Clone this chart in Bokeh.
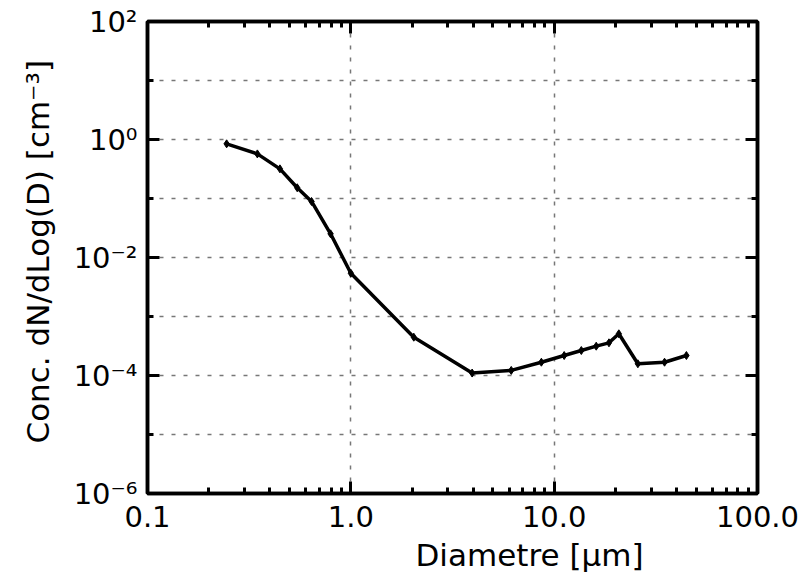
from bokeh.plotting import figure
from bokeh.models import FixedTicker, CustomJSTickFormatter, LogAxis, Range1d, Title
from bokeh.embed import file_html
from bokeh.resources import INLINE

diameter = [0.245, 0.347, 0.448, 0.545, 0.641, 0.795, 1.0, 2.04, 3.95, 6.15,
            8.65, 11.2, 13.6, 16.1, 18.6, 20.8, 25.8, 34.9, 44.7]
conc = [0.845, 0.57, 0.318, 0.152, 0.089, 0.0252, 0.00542, 4.46e-4, 1.1e-4, 1.22e-4,
        1.68e-4, 2.18e-4, 2.65e-4, 3.14e-4, 3.58e-4, 5.09e-4, 1.58e-4, 1.68e-4, 2.18e-4]

x_major = [0.1, 1.0, 10.0, 100.0]
x_minor = [0.2, 0.3, 0.4, 0.5, 0.6, 0.7, 0.8, 0.9,
           2, 3, 4, 5, 6, 7, 8, 9,
           20, 30, 40, 50, 60, 70, 80, 90]
y_major = [1e-6, 1e-4, 1e-2, 1e0, 1e2]
y_minor = [1e-5, 1e-3, 1e-1, 1e1]
y_grid = [1e-6, 1e-5, 1e-4, 1e-3, 1e-2, 1e-1, 1e0, 1e1, 1e2]
x_title = "Diametre [\u03bcm]"
y_title = "Conc.  dN/dLog(D)  [cm\u207b\u00b3]"

FONT = "DejaVu Sans"

p = figure(width=800, height=586, x_axis_type="log", y_axis_type="log",
           x_range=Range1d(0.1, 100), y_range=Range1d(1e-6, 1e2),
           output_backend="svg", toolbar_location=None,
           min_border_left=147, min_border_right=43, min_border_top=21, min_border_bottom=93)

p.background_fill_color = "white"
p.border_fill_color = "white"
p.outline_line_color = "black"
p.outline_line_width = 3.5

xf = CustomJSTickFormatter(code="return tick.toFixed(1);")
yf = CustomJSTickFormatter(code="""
const e = Math.round(Math.log10(tick));
const sup = {'0':'\u2070','1':'\u00b9','2':'\u00b2','3':'\u00b3','4':'\u2074','5':'\u2075','6':'\u2076','7':'\u2077','8':'\u2078','9':'\u2079','-':'\u207b'};
return '10' + String(e).split('').map(c => sup[c]).join('');
""")
blank = CustomJSTickFormatter(code="return '';")

def style_axis(ax, major, minor, fmt):
    ax.ticker = FixedTicker(ticks=major, minor_ticks=minor)
    ax.formatter = fmt
    ax.axis_line_width = 3.5
    ax.axis_line_color = "black"
    ax.major_tick_in = 12
    ax.major_tick_out = 0
    ax.minor_tick_in = 6
    ax.minor_tick_out = 0
    ax.major_tick_line_width = 3
    ax.minor_tick_line_width = 3
    ax.major_label_text_font = FONT
    ax.major_label_text_font_size = "29px"
    ax.major_label_text_color = "black"

style_axis(p.xaxis[0], x_major, x_minor, xf)
style_axis(p.yaxis[0], y_major, y_minor, yf)
p.xaxis[0].major_label_standoff = 12
p.yaxis[0].major_label_standoff = 10

top_ax = LogAxis()
style_axis(top_ax, x_major, x_minor, blank)
top_ax.major_label_text_font_size = "0px"
right_ax = LogAxis()
style_axis(right_ax, y_major, y_minor, blank)
right_ax.major_label_text_font_size = "0px"
p.add_layout(top_ax, "above")
p.add_layout(right_ax, "right")

xt = Title(text=x_title, align="left", offset=268, standoff=10,
           text_font=FONT, text_font_size="31px", text_font_style="normal", text_color="black")
p.add_layout(xt, "below")
yt = Title(text=y_title, align="left", offset=50, standoff=30,
           text_font=FONT, text_font_size="31px", text_font_style="normal", text_color="black")
p.add_layout(yt, "left")

p.xgrid.ticker = FixedTicker(ticks=x_major)
p.ygrid.ticker = FixedTicker(ticks=y_grid)
for g in (p.xgrid[0], p.ygrid[0]):
    g.grid_line_color = "#777777"
    g.grid_line_dash = "4 8"
    g.grid_line_width = 1.5

p.line(diameter, conc, line_color="black", line_width=3.5)
p.scatter(diameter, conc, marker="diamond", size=8, color="black")

open("out.html", "w").write(file_html(p, INLINE))
